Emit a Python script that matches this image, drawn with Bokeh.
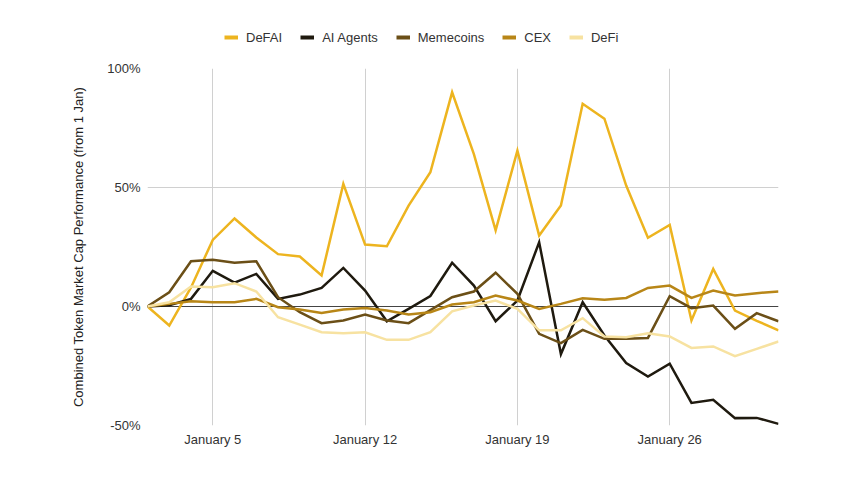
from bokeh.plotting import figure
from bokeh.layouts import column
from bokeh.models import Range1d, FixedTicker, Span, Legend, LegendItem
from bokeh.embed import file_html
from bokeh.resources import INLINE

# day of month (January), first point = Jan 2
days = list(range(2, 32))

series_names = ["DeFAI", "AI Agents", "Memecoins", "CEX", "DeFi"]

defai = [0, -8, 8, 28, 37, 29, 22, 21, 13, 51.5, 26, 25.3, 42.4, 56.4, 90, 64, 32,
         65.5, 29.8, 42.4, 85.2, 78.9, 50.8, 28.9, 34.3, -5.9, 15.8, -1.7, -6, -10]
ai_agents = [0, 0.5, 3.2, 15, 10, 13.7, 3.2, 5, 7.8, 16.2, 6.7, -6.2, -1, 4.4, 18.4,
             8.8, -6.2, 2.5, 27, -20, 1.8, -12.2, -23.8, -29.4, -24, -40.5, -39.2,
             -46.9, -46.8, -49.3]
memecoins = [0, 6, 19, 19.6, 18.4, 19, 3.9, -2.4, -7, -5.9, -3.4, -5.9, -7, -1.5, 3.9,
             6.3, 14.2, 5.3, -11.5, -15.4, -9.8, -13.6, -13.6, -13.2, 4.3, -0.7, 0.4,
             -9.4, -2.8, -6.2]
cex = [0, 1.1, 2.2, 1.8, 1.8, 3.2, -0.3, -1.3, -2.7, -1.3, -0.6, -1.7, -3.4, -2.4,
       0.8, 1.8, 4.6, 2.5, -1, 1.1, 3.5, 2.8, 3.6, 7.8, 8.8, 3.6, 6.7, 4.6, 5.6, 6.3]
defi = [0, 1.8, 8.4, 8.1, 9.8, 6.3, -4.5, -7.6, -10.8, -11.2, -10.8, -14, -14, -10.8,
        -2, 0.4, 2.5, -1, -10, -10, -4.9, -12.6, -12.9, -11.2, -12.6, -17.4, -16.8,
        -20.9, -17.8, -14.7]

x_ticks = [5, 12, 19, 26]
x_tick_labels = ["January 5", "January 12", "January 19", "January 26"]
y_ticks = [-50, 0, 50, 100]
y_tick_labels = ["-50%", "0%", "50%", "100%"]

colors = ["#EDB41F", "#1F1A0F", "#6B4F17", "#B88617", "#F7E2A1"]
FONT = "Liberation Sans"
all_series = [defai, ai_agents, memecoins, cex, defi]

W = 850
LEG_H = 58

# ---- legend strip (separate figure above the chart) ----
lf = figure(width=W, height=LEG_H, output_backend="svg", toolbar_location=None,
            x_axis_location=None, y_axis_location=None,
            min_border=0, min_border_left=0, min_border_right=0,
            min_border_top=0, min_border_bottom=0,
            x_range=Range1d(2, 31), y_range=Range1d(-50, 100))
lf.outline_line_color = None
lf.grid.visible = False
leg_renderers = []
for vals, col in zip(all_series, colors):
    leg_renderers.append(lf.line(days, vals, line_color=col, line_width=4, visible=False))
legend = Legend(items=[LegendItem(label=n, renderers=[r]) for n, r in zip(series_names, leg_renderers)],
                orientation="horizontal", location=(77, 11),
                glyph_width=14, glyph_height=20, label_standoff=8, spacing=18,
                padding=0, margin=0, border_line_color=None,
                background_fill_alpha=0,
                label_text_font=FONT, label_text_font_size="13px",
                label_text_color="#333333")
lf.add_layout(legend, "center")

# ---- main chart ----
p = figure(width=W, height=480 - LEG_H, output_backend="svg", toolbar_location=None,
           x_range=Range1d(2, 31), y_range=Range1d(-50, 100),
           min_border_left=147, min_border_right=72, min_border_top=68 - LEG_H,
           min_border_bottom=55)
p.outline_line_color = None
p.background_fill_color = "white"
p.border_fill_color = "white"

p.xgrid.ticker = FixedTicker(ticks=x_ticks)
p.ygrid.ticker = FixedTicker(ticks=y_ticks)
p.xgrid.grid_line_color = "#d0d0d0"
p.ygrid.grid_line_color = "#d0d0d0"

zero = Span(location=0, dimension="width", line_color="#444444", line_width=1,
            level="underlay")
p.add_layout(zero)

p.xaxis.ticker = FixedTicker(ticks=x_ticks)
p.xaxis.major_label_overrides = {t: l for t, l in zip(x_ticks, x_tick_labels)}
p.yaxis.ticker = FixedTicker(ticks=y_ticks)
p.yaxis.major_label_overrides = {t: l for t, l in zip(y_ticks, y_tick_labels)}
for ax in (p.xaxis, p.yaxis):
    ax.axis_line_color = None
    ax.major_tick_line_color = None
    ax.minor_tick_line_color = None
    ax.major_tick_out = 0
    ax.major_tick_in = 0
    ax.minor_tick_out = 0
    ax.major_label_text_font = FONT
    ax.major_label_text_font_size = "13px"
    ax.major_label_text_color = "#333333"
p.xaxis.major_label_standoff = 6
p.yaxis.major_label_standoff = 7
p.yaxis.axis_label = "Combined Token Market Cap Performance (from 1 Jan)"
p.yaxis.axis_label_text_font = FONT
p.yaxis.axis_label_text_font_size = "13px"
p.yaxis.axis_label_text_font_style = "normal"
p.yaxis.axis_label_text_color = "#222222"
p.yaxis.axis_label_standoff = 18

for vals, col in zip(all_series, colors):
    p.line(days, vals, line_color=col, line_width=2.5, line_join="miter")

layout = column(lf, p, spacing=0)
open("out.html", "w").write(file_html(layout, INLINE))
